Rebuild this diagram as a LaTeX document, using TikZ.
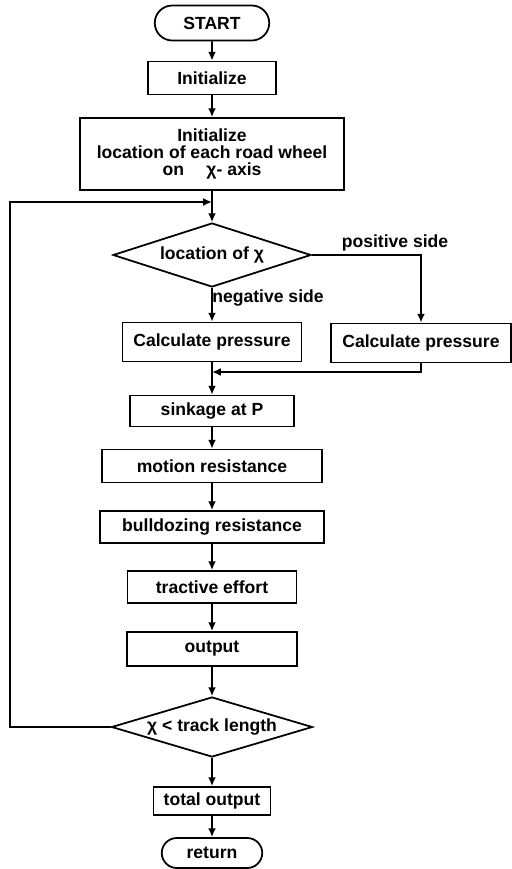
\documentclass[tikz,border=0pt]{standalone}
\usepackage{fontspec}
\setmainfont{Liberation Sans}
\usepackage{tikz}
\usetikzlibrary{arrows.meta,shapes.geometric,shapes.misc}

\tikzset{
  box/.style={draw, rectangle, line width=1pt, inner sep=1pt},
  term/.style={draw, rounded rectangle, line width=1pt, inner sep=1pt},
  test/.style={draw, diamond, aspect=3, line width=1pt, inner sep=0pt},
  flow/.style={-{Latex[length=5pt,width=4.5pt]}, line width=1pt}
}

\begin{document}
\begin{tikzpicture}[x=0.02cm, y=-0.02cm, font=\fontsize{10}{9.5}\selectfont\bfseries]
\useasboundingbox (0,0) rectangle (511,869);

\node[term, minimum width=2.36cm, minimum height=0.70cm] (start) at (212,23) {START};
\node[box, minimum width=2.56cm, minimum height=0.66cm] (init) at (212,78) {Initialize};
\node[box, minimum width=5.28cm, minimum height=1.44cm, align=center] (initx) at (212,154)
  {Initialize\\location of each road wheel\\on \quad χ- axis};
\node[test, minimum width=3.96cm, minimum height=1.28cm] (where) at (212,255) {location of χ};
\node[box, minimum width=3.58cm, minimum height=0.78cm] (calcneg) at (212,342) {Calculate pressure};
\node[box, minimum width=3.60cm, minimum height=0.78cm] (calcpos) at (421,343) {Calculate pressure};
\node[box, minimum width=3.28cm, minimum height=0.62cm] (sink) at (212,411) {sinkage at P};
\node[box, minimum width=4.40cm, minimum height=0.66cm] (motion) at (212,466) {motion resistance};
\node[box, minimum width=4.48cm, minimum height=0.64cm] (dozer) at (212,527) {bulldozing resistance};
\node[box, minimum width=3.38cm, minimum height=0.64cm] (effort) at (212,587) {tractive effort};
\node[box, minimum width=3.40cm, minimum height=0.68cm] (out) at (212,649) {output};
\node[test, minimum width=4.02cm, minimum height=1.20cm] (length) at (212,727) {χ < track length};
\node[box, minimum width=2.34cm, minimum height=0.56cm] (total) at (212,801) {total output};
\node[term, minimum width=2.08cm, minimum height=0.60cm] (ret) at (212,853) {return};

\node (lblpos) at (395,243) {positive side};
\node (lblneg) at (268,298) {negative side};

\coordinate (join) at (212,202);
\coordinate (loopl) at (10,202);
\coordinate (merge) at (212,372);

\draw[flow] (start) -- (init);
\draw[flow] (init) -- (initx);
\draw[line width=1pt] (initx) -- (join);
\draw[flow] (join) -- (where);
\draw[flow] (where) -- (calcneg);
\draw[flow] (where.east) -| (calcpos.north);
\draw[flow] (calcpos.south) |- (merge);
\draw[flow] (calcneg) -- (sink);
\draw[flow] (sink) -- (motion);
\draw[flow] (motion) -- (dozer);
\draw[flow] (dozer) -- (effort);
\draw[flow] (effort) -- (out);
\draw[flow] (out) -- (length);
\draw[flow] (length) -- (total);
\draw[flow] (total) -- (ret);
% back to the test on x
\draw[flow] (length.west) -| (loopl) -- (join);

\end{tikzpicture}
\end{document}
